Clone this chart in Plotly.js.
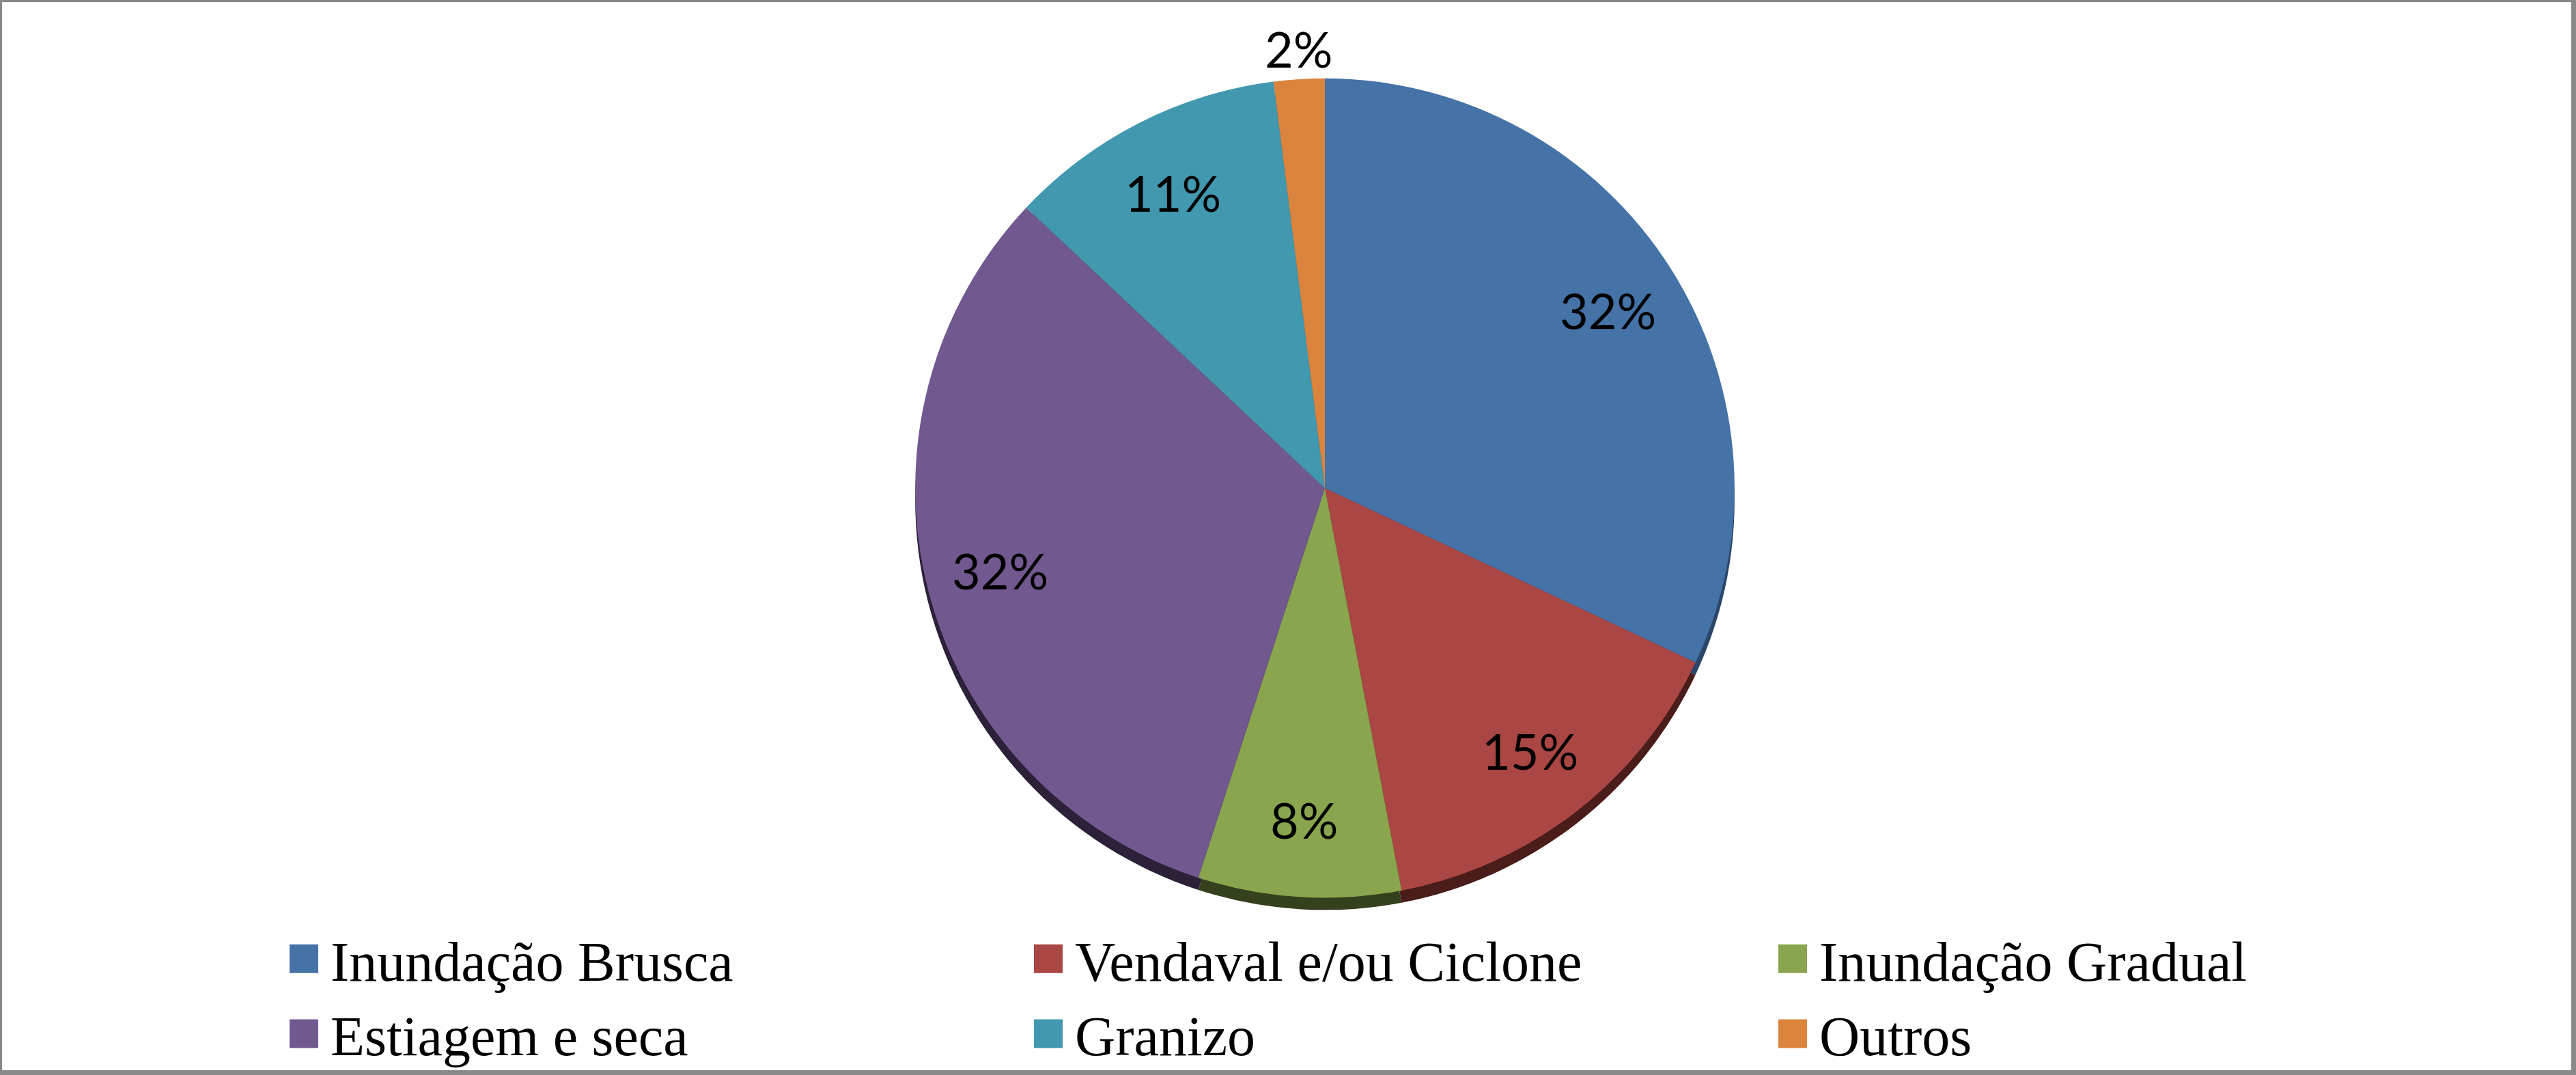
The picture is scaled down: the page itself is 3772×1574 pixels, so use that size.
<!DOCTYPE html>
<html>
<head>
<meta charset="utf-8">
<script src="https://cdn.plot.ly/plotly-3.0.1.min.js"></script>
<style>
body { margin: 0; background: white; }
#wrap { position: relative; width: 3772px; height: 1574px; }
#frame { position: absolute; left: 0; top: 0; width: 3772px; height: 1574px; box-sizing: border-box;
  border-style: solid; border-color: #888888; border-width: 3px 7px 7px 3px; pointer-events: none; }
</style>
</head>
<body>
<div id="wrap">
  <div id="pie_container"></div>
  <div id="frame"></div>
</div>
<script>
// categories and shares (%)
var labels = ['Inundação Brusca', 'Vendaval e/ou Ciclone', 'Inundação Gradual', 'Estiagem e seca', 'Granizo', 'Outros']
var values = [32, 15, 8, 32, 11, 2]
var colors = ['#4572A7', '#AA4643', '#89A54E', '#71588F', '#4198AF', '#DB843D']
var rimColors = ['#2B4668', '#4A1C1A', '#35401C', '#2C2138', '#275C6A', '#7A4A22']

var W = 3772, H = 1574
var cx = 1940, cy = 722, R = 606   // pie centre / radius in px
var depth = 18                      // thickness of the 3d rim

function dom(dy) {
    return {
        x: [(cx - R) / W, (cx + R) / W],
        y: [(H - cy - dy - R) / H, (H - cy - dy + R) / H]
    }
}

var rim = {
    labels: labels,
    values: values,
    type: 'pie',
    sort: false,
    direction: 'clockwise',
    rotation: 0,
    marker: {colors: rimColors, line: {width: 0}},
    textinfo: 'none',
    showlegend: false,
    domain: dom(depth),
    hoverinfo: 'none'
}

var top_ = {
    labels: labels,
    values: values,
    type: 'pie',
    sort: false,
    direction: 'clockwise',
    rotation: 0,
    marker: {colors: colors, line: {width: 0}},
    textinfo: 'none',
    domain: dom(0),
    hoverinfo: 'none'
}

// percentage labels, placed like excel's "best fit"
var total = values.reduce(function (a, b) { return a + b }, 0)
var annotations = []
var cum = 0
for (var i = 0; i < values.length; i++) {
    var frac = values[i] / total
    var mid = (cum + frac / 2) * 2 * Math.PI
    cum += frac
    var small = frac < 0.04
    var k = small ? 1.0 : 0.81
    annotations.push({
        text: Math.round(frac * 100) + '%',
        xref: 'paper', yref: 'paper',
        x: (cx + k * R * Math.sin(mid)) / W,
        y: (H - cy + k * R * Math.cos(mid)) / H,
        xanchor: 'center',
        yanchor: small ? 'bottom' : 'middle',
        showarrow: false,
        font: {family: 'Lato, sans-serif', size: 72, color: 'black'}
    })
}

var pielayout = {
    width: W,
    height: H,
    margin: {l: 0, r: 0, t: 0, b: 0},
    paper_bgcolor: 'white',
    plot_bgcolor: 'white',
    annotations: annotations,
    showlegend: true,
    legend: {
        orientation: 'h',
        x: 406 / W,
        xanchor: 'left',
        y: 1 - 1358 / H,
        yanchor: 'top',
        itemwidth: 68,
        entrywidth: 1007,
        entrywidthmode: 'pixels',
        traceorder: 'normal',
        font: {family: 'Liberation Serif, Times New Roman, serif', size: 82, color: 'black'},
        bgcolor: 'rgba(0,0,0,0)'
    }
}

Plotly.newPlot('pie_container', [rim, top_], pielayout, {staticPlot: true}).then(function (gd) {
    // Excel-style legend keys are bigger than plotly's 12px pie swatch
    var keys = gd.querySelectorAll('path.legendpie')
    for (var i = 0; i < keys.length; i++) {
        keys[i].setAttribute('d', 'M21,21H-21V-21H21Z')
    }
})
</script>
</body>
</html>
